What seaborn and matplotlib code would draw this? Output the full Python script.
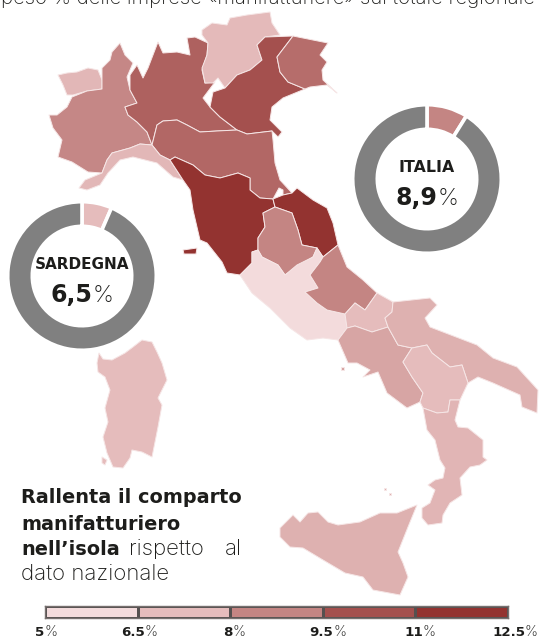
import matplotlib
matplotlib.use("Agg")
import matplotlib.pyplot as plt
import matplotlib.colors as mcolors
import numpy as np
import seaborn as sns

# Dati
legend_ticks = ["5", "6.5", "8", "9.5", "11", "12.5"]
legend_colors = ["#f3dbdc", "#e5bcbc", "#c48583", "#a4504e", "#933330"]
legend_values = [0, 1, 2, 3, 4]

italia_value = 8.9
sardegna_value = 6.5

# peso % stimato dal colore di ogni regione
region_values = {
    "Valle d'Aosta": 6.7, "Piemonte": 8.8, "Lombardia": 10.0, "Trentino": 6.6,
    "Veneto": 10.5, "Friuli": 9.6, "Liguria": 6.7, "Emilia": 9.8, "Toscana": 12.5,
    "Marche": 12.5, "Umbria": 8.9, "Lazio": 5.0, "Abruzzo": 8.9, "Molise": 6.5,
    "Campania": 7.5, "Puglia": 7.0, "Basilicata": 6.5, "Calabria": 6.8,
    "Sicilia": 7.0, "Sardegna": 6.5,
}

# Contorni delle regioni (pixel del riferimento)
valle = [(58,75),(67,73),(77,72),(88,68),(98,70),(102,80),(102,89),(87,91),(73,95),(67,95),(63,85)]
piemonte = [(49,115),(57,115),(67,107),(72,97),(87,91),(102,89),(102,68),(110,60),(112,52),(120,43),(125,55),(133,63),(127,77),(130,90),(137,103),(125,107),(128,115),(137,122),(147,132),(152,145),(140,144),(130,148),(112,153),(107,160),(102,173),(88,172),(72,162),(58,157),(62,140),(53,128)]
lombardia = [(130,75),(137,65),(143,78),(148,68),(158,42),(163,53),(177,52),(190,55),(187,38),(195,37),(208,43),(207,55),(202,70),(205,83),(215,82),(203,98),(210,107),(220,117),(237,130),(217,131),(200,132),(187,125),(177,120),(163,121),(157,125),(152,145),(147,132),(137,122),(128,115),(125,107),(137,103),(130,90)]
trentino = [(202,30),(212,23),(227,25),(230,18),(247,15),(270,12),(272,23),(280,35),(265,37),(257,45),(262,60),(250,70),(237,75),(225,88),(218,78),(213,83),(205,83),(202,68),(207,55),(208,43),(202,35)]
veneto = [(265,37),(293,36),(277,57),(280,72),(288,82),(305,89),(283,98),(272,107),(270,120),(282,132),(278,137),(272,131),(247,134),(237,130),(220,117),(210,107),(213,92),(225,88),(237,75),(250,70),(262,60),(257,45)]
friuli = [(293,36),(328,43),(320,55),(327,62),(322,70),(323,80),(337,93),(327,85),(310,87),(305,89),(288,82),(280,72),(277,57)]
emilia = [(163,121),(177,120),(187,125),(200,132),(217,131),(237,130),(247,134),(272,131),(273,140),(275,163),(280,180),(292,193),(283,195),(283,190),(279,188),(273,199),(260,198),(250,190),(250,178),(238,173),(220,178),(205,175),(193,165),(175,157),(170,160),(160,155),(152,145),(157,125)]
liguria = [(79,188),(85,180),(102,173),(107,160),(112,153),(130,148),(140,144),(152,145),(160,155),(170,160),(183,180),(173,177),(157,163),(133,157),(120,160),(108,173),(100,185),(87,190)]
toscana = [(170,160),(175,157),(193,165),(205,175),(220,178),(238,173),(250,178),(250,190),(260,198),(273,199),(275,207),(263,213),(265,227),(258,238),(258,250),(252,252),(252,263),(240,275),(227,273),(222,262),(207,243),(200,240),(193,210),(190,190),(183,180)]
elba = [(183,250),(197,248),(196,254),(184,254)]
marche = [(273,199),(283,195),(292,193),(297,188),(313,200),(327,208),(333,223),(338,245),(323,257),(317,248),(302,245),(298,230),(292,213),(275,207)]
umbria = [(275,207),(292,213),(298,230),(302,245),(317,248),(313,257),(285,275),(278,265),(262,257),(258,250),(258,238),(265,227),(263,213)]
lazio = [(240,275),(252,263),(252,252),(258,250),(262,257),(278,265),(285,275),(297,265),(313,257),(317,248),(323,257),(320,262),(310,275),(318,288),(305,292),(317,303),(327,310),(345,314),(347,328),(338,340),(323,338),(307,340),(290,328),(270,308),(252,293)]
abruzzo = [(320,262),(323,257),(338,245),(347,267),(363,280),(377,293),(365,310),(355,303),(345,314),(327,310),(317,303),(305,292),(318,288),(310,275)]
molise = [(377,293),(393,302),(392,312),(385,318),(388,327),(372,332),(355,326),(347,328),(345,314),(355,303),(365,310)]
campania = [(347,328),(355,326),(372,332),(388,327),(398,345),(412,348),(403,362),(412,377),(423,393),(420,402),(407,408),(387,393),(378,372),(363,377),(370,370),(357,363),(348,363),(338,340)]
ischia = [(341,367),(344,367),(344,370),(341,370)]
puglia = [(393,302),(430,298),(437,305),(425,318),(430,327),(477,345),(493,358),(517,367),(538,390),(537,413),(522,407),(520,395),(493,383),(478,377),(468,383),(462,365),(450,367),(432,353),(427,345),(412,348),(398,345),(388,327),(385,318),(392,312)]
basilicata = [(412,348),(427,345),(432,353),(450,367),(462,365),(468,383),(460,400),(450,400),(448,412),(437,413),(423,408),(420,402),(423,393),(412,377),(403,362)]
calabria = [(423,408),(437,413),(448,412),(450,400),(460,400),(455,420),(458,427),(468,428),(483,440),(483,457),(487,460),(480,465),(470,467),(460,478),(462,495),(450,503),(443,515),(442,523),(428,525),(422,518),(422,508),(430,503),(435,490),(428,485),(435,480),(443,478),(445,468),(440,460),(435,440),(427,430)]
sicilia = [(280,528),(293,515),(300,522),(308,513),(318,512),(328,522),(338,525),(360,522),(380,513),(397,513),(417,505),(408,527),(398,552),(403,563),(408,577),(400,595),(373,590),(363,577),(345,573),(323,560),(303,548),(290,547),(280,537)]
sardegna = [(97,363),(99,353),(103,359),(112,360),(125,353),(133,347),(142,340),(152,342),(157,352),(162,363),(167,380),(158,398),(162,405),(158,427),(153,452),(152,457),(142,452),(132,450),(130,458),(123,468),(113,467),(107,453),(103,437),(108,422),(105,408),(110,390),(105,377),(98,372)]
antioco = [(102,457),(107,460),(105,465),(102,463)]
eolie_a = [(384,488),(386,488),(386,490),(384,490)]
eolie_b = [(389,493),(391,493),(391,495),(389,495)]

shapes = [
    ("Valle d'Aosta", valle), ("Piemonte", piemonte), ("Lombardia", lombardia),
    ("Trentino", trentino), ("Veneto", veneto), ("Friuli", friuli), ("Emilia", emilia),
    ("Liguria", liguria), ("Toscana", toscana), ("Toscana", elba), ("Marche", marche),
    ("Umbria", umbria), ("Lazio", lazio), ("Abruzzo", abruzzo), ("Molise", molise),
    ("Campania", campania), ("Campania", ischia), ("Puglia", puglia),
    ("Basilicata", basilicata), ("Calabria", calabria), ("Sicilia", sicilia),
    ("Sicilia", eolie_a), ("Sicilia", eolie_b), ("Sardegna", sardegna), ("Sardegna", antioco),
]

W, H = 540, 638
LIGHT = "Inter"
BOLD = "DejaVu Sans"
DARK = "#1d1d1b"

sns.set_theme(style="white")
plt.rcParams["font.family"] = [LIGHT, "DejaVu Sans"]

fig = plt.figure(figsize=(W / 100, H / 100), dpi=100)
ax = fig.add_axes([0, 0, 1, 1])
ax.set_xlim(0, W)
ax.set_ylim(H, 0)
ax.axis("off")

# Scala colori: il nodo di ogni colore è il valore a cui compare sulla mappa
nodes = [5, 6.5, 8.9, 10.5, 12.5]
cmap = mcolors.LinearSegmentedColormap.from_list(
    "peso", [((n - 5) / 7.5, c) for n, c in zip(nodes, legend_colors)])
norm = mcolors.Normalize(5, 12.5)

for name, pts in shapes:
    xs, ys = zip(*pts)
    ax.fill(xs, ys, facecolor=cmap(norm(region_values[name])), edgecolor="#f6e6e6", linewidth=0.7, joinstyle="round")

renderer = fig.canvas.get_renderer()


def bold_text(x, y, s, size, **kw):
    return ax.text(x, y, s, fontsize=size, fontweight="bold", family=BOLD, color=DARK, va="baseline", **kw)


def light_text(x, y, s, size, **kw):
    return ax.text(x, y, s, fontsize=size, fontweight="light", family=LIGHT, color=DARK, va="baseline", **kw)


def mixed(x, y, bold, light, size, lsize):
    # Numero in grassetto e simbolo in chiaro uno di seguito all'altro
    t1 = bold_text(x, y, bold, size, ha="left")
    t2 = light_text(x, y, light, lsize, ha="left")
    w1 = t1.get_window_extent(renderer).width
    w2 = t2.get_window_extent(renderer).width
    x0 = x - (w1 + w2) / 2
    t1.set_x(x0)
    t2.set_x(x0 + w1)


def donut(cx, cy, value, color, label, label_size):
    r = 76
    a = fig.add_axes([(cx - r) / W, 1 - (cy + r) / H, 2 * r / W, 2 * r / H])
    a.pie([value, 100 - value], colors=[color, "#808080"], startangle=90, counterclock=False,
          radius=74.3, wedgeprops=dict(width=24.6, edgecolor="white", linewidth=2.6))
    a.set_xlim(-r, r)
    a.set_ylim(-r, r)
    bold_text(cx, cy - 7, label, label_size, ha="center")
    mixed(cx, cy + 26, f"{value}".replace(".", ","), "%", 17, 17)


donut(427, 179, italia_value, cmap(norm(italia_value)), "ITALIA", 11.3)
donut(82, 276, sardegna_value, cmap(norm(sardegna_value)), "SARDEGNA", 11)

# Titolo tagliato in alto, come nell'originale
light_text(268, 4, "peso % delle imprese «manifatturiere» sul totale regionale", 14.6, ha="center")

# Testo
bold_text(21, 503, "Rallenta il comparto", 13.9, ha="left")
bold_text(21, 530, "manifatturiero", 13.9, ha="left")
bold_text(21, 555, "nell’isola", 13.9, ha="left")
light_text(129, 555, "rispetto", 16, ha="left")
light_text(242, 555, "al", 16, ha="right")
light_text(21, 580, "dato nazionale", 16, ha="left")

# Legenda
cax = fig.add_axes([45 / W, 1 - 618 / H, 463 / W, 12 / H])
sns.heatmap(np.array([legend_values]), ax=cax, cmap=legend_colors, cbar=False, linewidths=0.8,
            linecolor="#55504f", xticklabels=False, yticklabels=False)
for spine in cax.spines.values():
    spine.set_visible(True)
    spine.set_color("#77706f")
    spine.set_linewidth(1)

label_px = [46, 139, 234, 328, 420, 515]
for px, lab in zip(label_px, legend_ticks):
    mixed(px, 636, lab, "%", 9.6, 10.5)

fig.savefig("out.png", dpi=100)
